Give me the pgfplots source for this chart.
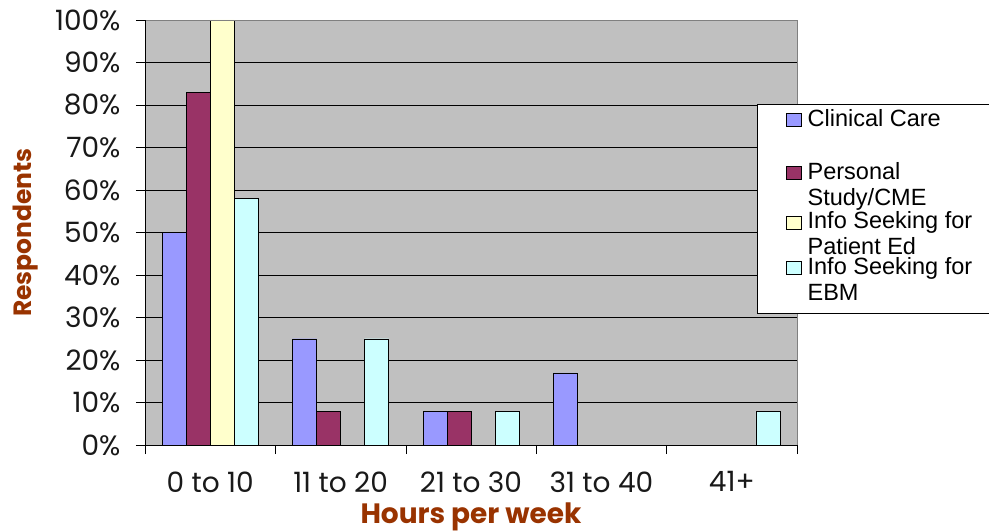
\documentclass[border=0pt]{standalone}
\usepackage{fontspec}
\setmainfont{Liberation Sans}
\newfontfamily\gothic{Poppins}
\usepackage{pgfplots}
\pgfplotsset{compat=1.18}
\definecolor{plotbg}{HTML}{C0C0C0}
\definecolor{ccare}{HTML}{9999FF}
\definecolor{cstudy}{HTML}{993366}
\definecolor{cped}{HTML}{FFFFCC}
\definecolor{cebm}{HTML}{CCFFFF}
\definecolor{labbrown}{HTML}{993300}
\begin{document}
\begin{tikzpicture}
\useasboundingbox (0,0) rectangle (989bp,531bp);
\begin{axis}[
  at={(145bp,86bp)}, anchor=south west,
  width=652bp, height=425bp, scale only axis,
  ybar=0pt, bar width=24bp,
  xmin=-0.5, xmax=4.5, ymin=0, ymax=100,
  axis background/.style={fill=plotbg},
  axis line style={draw=gray},
  axis x line*=bottom, axis y line*=left,
  xtick={0,1,2,3,4},
  xticklabels={0 to 10,11 to 20,21 to 30,31 to 40,41+},
  major x tick style={draw=none},
  minor xtick={-0.5,0.5,1.5,2.5,3.5,4.5},
  minor tick length=9bp,
  ytick={0,10,...,100},
  yticklabel={\pgfmathprintnumber{\tick}\%},
  major tick length=9bp,
  tick align=outside,
  tick style={black, thin},
  ymajorgrids, grid style={black, thin},
  /pgf/number format/assume math mode=true,
  ticklabel style={font=\gothic\fontsize{28bp}{30bp}\selectfont, text=black!90},
  xticklabel style={yshift=-14bp},
  yticklabel style={xshift=-12bp},
  xlabel={Hours per week},
  ylabel={Respondents},
  label style={font=\gothic\bfseries\fontsize{28bp}{30bp}\selectfont, text=labbrown},
  xlabel style={at={(axis description cs:0.5,0)}, anchor=base, yshift=-78bp},
  ylabel style={at={(axis description cs:-0.1825,0.5)}, anchor=center,
    font=\gothic\bfseries\fontsize{25bp}{28bp}\selectfont},
  legend image code/.code={\draw[#1] (0bp,0bp) rectangle (15bp,13bp);},
  legend cell align=left,
  legend style={at={(rel axis cs:0.9387,0.8024)}, anchor=north west,
    draw=black, fill=white, inner xsep=29bp, inner ysep=4bp,
    font=\fontsize{23.5bp}{26bp}\selectfont,
    row sep=0bp,
    cells={anchor=base west},
    nodes={text depth=, inner xsep=3bp, inner ysep=1bp}},
  clip=false,
]
\addplot[draw=black, fill=ccare] coordinates {(0,50) (1,25) (2,8) (3,17) (4,0)};
\addlegendentry{\hspace{3bp}\begin{minipage}[t]{185bp}Clinical Care\\\strut\end{minipage}}
\addplot[draw=black, fill=cstudy] coordinates {(0,83) (1,8) (2,8) (3,0) (4,0)};
\addlegendentry{\hspace{3bp}\begin{minipage}[t]{185bp}Personal\\Study/CME\end{minipage}}
\addplot[draw=black, fill=cped] coordinates {(0,100) (1,0) (2,0) (3,0) (4,0)};
\addlegendentry{\hspace{3bp}\begin{minipage}[t]{185bp}Info Seeking for\\Patient Ed\end{minipage}}
\addplot[draw=black, fill=cebm] coordinates {(0,58) (1,25) (2,8) (3,0) (4,8)};
\addlegendentry{\hspace{3bp}\begin{minipage}[t]{185bp}Info Seeking for\\EBM\strut\end{minipage}}
\draw[gray] (rel axis cs:0,1) -- (rel axis cs:1,1) -- (rel axis cs:1,0);
\draw[black] (rel axis cs:0,0) -- (rel axis cs:0,1);
\draw[black] (rel axis cs:0,0) -- (rel axis cs:1,0);
\end{axis}
\end{tikzpicture}
\end{document}
